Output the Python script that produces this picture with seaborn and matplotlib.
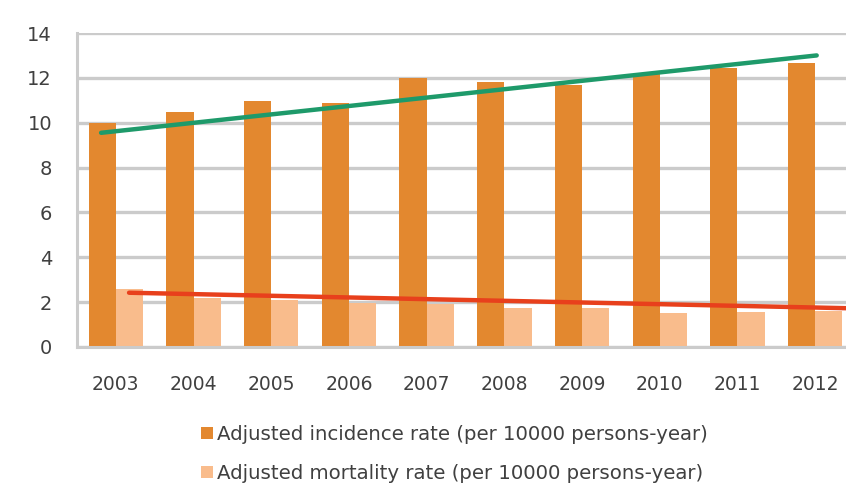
import numpy as np
import pandas as pd
import matplotlib
matplotlib.use("Agg")
import matplotlib.pyplot as plt
import seaborn as sns

# Annual rates, 2003-2012
years = ["2003", "2004", "2005", "2006", "2007", "2008", "2009", "2010", "2011", "2012"]
incidence = [10.0, 10.5, 10.95, 10.9, 12.0, 11.8, 11.7, 12.15, 12.45, 12.65]
mortality = [2.6, 2.2, 2.1, 1.95, 1.9, 1.75, 1.75, 1.5, 1.55, 1.6]

series_names = [
    "Adjusted incidence rate (per 10000 persons-year)",
    "Adjusted mortality rate (per 10000 persons-year)",
]

# Trend line end values (start, end) for each series
incidence_trend = [9.55, 13.0]
mortality_trend = [2.42, 1.73]

y_ticks = [0, 2, 4, 6, 8, 10, 12, 14]

colors = ["#E3882F", "#F9BC8C"]
text_color = "#404040"
grid_color = "#CBCBCB"

df = pd.DataFrame({
    "year": years * 2,
    "rate": incidence + mortality,
    "series": [series_names[0]] * len(years) + [series_names[1]] * len(years),
})

sns.set_style("white")
plt.rcParams["font.family"] = ["DejaVu Sans"]

fig = plt.figure(figsize=(8.46, 4.87), dpi=100)
W, H = 846, 487
left, right, y0, y14 = 77, 854, 347, 33
ax = fig.add_axes([left / W, (H - y0) / H, (right - left) / W, (y0 - y14) / H])

sns.barplot(data=df, x="year", y="rate", hue="series", palette=colors,
            width=0.7, dodge=True, saturation=1, ax=ax, legend=True,
            edgecolor="none", linewidth=0)

# Trend lines
ax.plot([-0.19, 9.02], incidence_trend, color="#1E9A6A", lw=3.2,
        solid_capstyle="round", zorder=5)
ax.plot([0.17, 9.4], mortality_trend, color="#E8401C", lw=3.2,
        solid_capstyle="round", zorder=5)

ax.set_xlim(-0.5, 9.5)
ax.set_ylim(0, 14)
ax.set_yticks(y_ticks)
ax.set_yticklabels([str(t) for t in y_ticks])
ax.set_xlabel("")
ax.set_ylabel("")

ax.yaxis.grid(True, color=grid_color, lw=2.4)
ax.set_axisbelow(True)
for side in ["top", "right"]:
    ax.spines[side].set_visible(False)
for side in ["left", "bottom"]:
    ax.spines[side].set_color(grid_color)
    ax.spines[side].set_linewidth(2.2)

ax.tick_params(axis="y", length=0, pad=18, labelsize=14, labelcolor=text_color)
ax.tick_params(axis="x", length=0, pad=20, labelsize=13.5, labelcolor=text_color)

handles, labels = ax.get_legend_handles_labels()
ax.get_legend().remove()
fig.legend(handles, labels, loc="upper left",
           bbox_to_anchor=(201 / W, (H - 425) / H),
           frameon=False, fontsize=14.2, labelcolor=text_color,
           handlelength=0.6, handleheight=0.6, handletextpad=0.2,
           labelspacing=1.0, borderpad=0, borderaxespad=0)

fig.savefig("out.png", dpi=100)
